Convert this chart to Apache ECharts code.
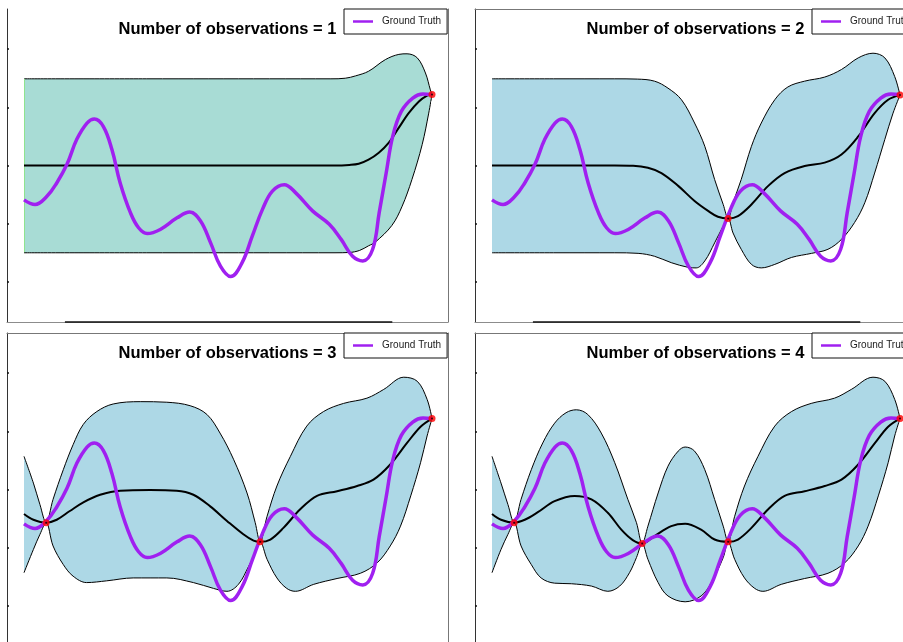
<!DOCTYPE html>
<html>
<head>
<meta charset="utf-8">
<script src="https://cdn.jsdelivr.net/npm/echarts@6/dist/echarts.min.js"></script>
<style>
  html, body { margin: 0; padding: 0; background: #fff; }
  #chart { width: 903px; height: 642px; }
</style>
</head>
<body>
<div id="chart"></div>
<script>
// Ground-truth function, sampled along x
const truthCurve = [[0,-0.59],[0.27,-0.67],[0.56,-0.53],[0.80,-0.30],[1.05,0.02],[1.29,0.45],[1.54,0.73],[1.72,0.80],[1.94,0.67],[2.15,0.27],[2.35,-0.30],[2.60,-0.81],[2.80,-1.07],[3.01,-1.17],[3.33,-1.10],[3.74,-0.90],[4.05,-0.80],[4.31,-0.95],[4.56,-1.33],[4.80,-1.73],[5.05,-1.91],[5.33,-1.67],[5.58,-1.21],[5.83,-0.75],[6.07,-0.44],[6.36,-0.33],[6.64,-0.47],[7.05,-0.78],[7.46,-1.01],[7.75,-1.27],[8.03,-1.56],[8.28,-1.64],[8.52,-1.44],[8.68,-0.81],[8.85,-0.13],[9.01,0.50],[9.22,0.93],[9.50,1.16],[9.75,1.23],[9.97,1.22]];

// Posterior after 1 observation
const observations1 = [[9.97,1.22]];
const mean1  = [[0,0],[3,0],[6,0],[7.6,0],[7.95,0.01],[8.18,0.03],[8.42,0.10],[8.67,0.22],[8.91,0.39],[9.16,0.65],[9.40,0.90],[9.65,1.10],[9.85,1.20],[9.97,1.22]];
const upper1 = [[0,1.49],[3,1.49],[6,1.49],[7.5,1.49],[7.85,1.50],[8.1,1.54],[8.42,1.62],[8.83,1.82],[9.16,1.91],[9.36,1.92],[9.61,1.85],[9.81,1.59],[9.93,1.30],[9.97,1.22]];
const lower1 = [[0,-1.50],[3,-1.50],[6,-1.50],[7.6,-1.50],[7.95,-1.495],[8.2,-1.46],[8.42,-1.38],[8.58,-1.32],[8.99,-1.03],[9.24,-0.70],[9.48,-0.24],[9.73,0.36],[9.89,0.90],[9.97,1.22]];

// Posterior after 2 observations
const observations2 = [[5.77,-0.91],[9.97,1.21]];
const mean2  = [[0,0],[1.5,0],[3,0],[3.45,-0.005],[3.81,-0.04],[4.14,-0.13],[4.55,-0.35],[4.95,-0.61],[5.28,-0.78],[5.52,-0.88],[5.77,-0.91],[6.01,-0.87],[6.34,-0.67],[6.75,-0.35],[7.15,-0.13],[7.64,-0.01],[8.13,0.05],[8.54,0.19],[8.95,0.50],[9.35,0.90],[9.68,1.13],[9.97,1.21]];
const upper2 = [[0,1.49],[1.5,1.49],[3,1.49],[3.55,1.485],[3.97,1.45],[4.30,1.33],[4.63,1.13],[4.95,0.73],[5.20,0.33],[5.44,-0.24],[5.65,-0.67],[5.77,-0.91],[5.89,-0.64],[6.09,-0.24],[6.34,0.33],[6.58,0.73],[6.91,1.13],[7.23,1.35],[7.64,1.45],[8.13,1.52],[8.54,1.65],[8.95,1.85],[9.31,1.93],[9.60,1.85],[9.84,1.53],[9.97,1.21]];
const lower2 = [[0,-1.50],[1.5,-1.50],[3,-1.50],[3.57,-1.51],[3.97,-1.56],[4.38,-1.67],[4.79,-1.75],[4.99,-1.76],[5.20,-1.64],[5.44,-1.33],[5.65,-1.04],[5.77,-0.91],[5.89,-1.16],[6.09,-1.44],[6.34,-1.70],[6.58,-1.76],[6.91,-1.70],[7.32,-1.58],[7.81,-1.51],[8.21,-1.44],[8.54,-1.27],[8.86,-0.98],[9.11,-0.64],[9.35,-0.13],[9.60,0.45],[9.80,0.90],[9.97,1.21]];

// Posterior after 3 observations
const observations3 = [[0.54,-0.57],[5.77,-0.90],[9.97,1.22]];
const mean3  = [[0,-0.42],[0.23,-0.52],[0.54,-0.57],[0.80,-0.52],[1.12,-0.37],[1.45,-0.22],[1.86,-0.09],[2.35,-0.02],[3.08,-0.01],[3.73,-0.02],[4.14,-0.09],[4.55,-0.29],[4.96,-0.54],[5.36,-0.77],[5.61,-0.88],[5.77,-0.90],[6.02,-0.86],[6.34,-0.66],[6.75,-0.34],[7.16,-0.11],[7.65,-0.03],[8.14,0.06],[8.54,0.17],[8.95,0.43],[9.36,0.80],[9.69,1.08],[9.97,1.22]];
const upper3 = [[0,0.57],[0.23,0.11],[0.39,-0.26],[0.54,-0.57],[0.71,-0.17],[0.96,0.34],[1.20,0.77],[1.45,1.12],[1.78,1.34],[2.18,1.47],[2.84,1.51],[3.49,1.50],[4.06,1.44],[4.47,1.29],[4.79,0.97],[5.12,0.52],[5.45,-0.06],[5.65,-0.57],[5.77,-0.90],[5.94,-0.46],[6.18,0.06],[6.51,0.57],[6.91,1.09],[7.32,1.34],[7.81,1.48],[8.38,1.57],[8.79,1.72],[9.28,1.93],[9.61,1.86],[9.85,1.55],[9.97,1.22]];
const lower3 = [[0,-1.43],[0.23,-1.03],[0.39,-0.77],[0.54,-0.57],[0.71,-0.97],[0.96,-1.29],[1.20,-1.49],[1.53,-1.60],[2.02,-1.57],[2.67,-1.52],[3.49,-1.52],[4.14,-1.60],[4.63,-1.70],[4.96,-1.75],[5.24,-1.63],[5.49,-1.32],[5.65,-1.09],[5.77,-0.90],[5.94,-1.20],[6.18,-1.52],[6.42,-1.70],[6.63,-1.75],[7.08,-1.63],[7.65,-1.53],[8.22,-1.44],[8.63,-1.26],[8.95,-0.97],[9.20,-0.63],[9.45,-0.11],[9.69,0.46],[9.85,0.92],[9.97,1.22]];

// Posterior after 4 observations
const observations4 = [[0.54,-0.57],[3.67,-0.93],[5.77,-0.90],[9.97,1.22]];
const mean4  = [[0,-0.42],[0.22,-0.52],[0.54,-0.57],[0.80,-0.52],[1.12,-0.39],[1.53,-0.20],[2.02,-0.11],[2.43,-0.17],[2.83,-0.40],[3.16,-0.69],[3.44,-0.87],[3.67,-0.93],[3.97,-0.80],[4.38,-0.63],[4.72,-0.59],[5.11,-0.69],[5.44,-0.86],[5.77,-0.90],[6.01,-0.86],[6.34,-0.66],[6.75,-0.34],[7.15,-0.11],[7.64,-0.03],[8.13,0.06],[8.54,0.17],[8.95,0.43],[9.36,0.80],[9.68,1.08],[9.97,1.22]];
const upper4 = [[0,0.57],[0.22,0.11],[0.39,-0.26],[0.54,-0.57],[0.71,-0.17],[0.96,0.34],[1.24,0.80],[1.53,1.14],[1.81,1.32],[2.06,1.37],[2.34,1.29],[2.67,0.97],[3.00,0.46],[3.32,-0.17],[3.53,-0.57],[3.67,-0.93],[3.81,-0.63],[4.06,-0.06],[4.30,0.40],[4.55,0.66],[4.72,0.73],[4.95,0.66],[5.20,0.34],[5.44,-0.17],[5.65,-0.63],[5.77,-0.90],[5.93,-0.46],[6.17,0.06],[6.50,0.57],[6.91,1.09],[7.32,1.34],[7.80,1.48],[8.37,1.57],[8.78,1.72],[9.31,1.93],[9.60,1.86],[9.84,1.55],[9.97,1.22]];
const lower4 = [[0,-1.43],[0.22,-1.03],[0.39,-0.77],[0.54,-0.57],[0.71,-0.97],[0.96,-1.29],[1.20,-1.52],[1.53,-1.61],[1.94,-1.62],[2.43,-1.66],[2.83,-1.75],[3.12,-1.66],[3.36,-1.43],[3.53,-1.17],[3.67,-0.93],[3.81,-1.20],[4.06,-1.60],[4.30,-1.83],[4.72,-1.93],[5.11,-1.83],[5.36,-1.60],[5.65,-1.17],[5.77,-0.90],[5.93,-1.20],[6.17,-1.52],[6.42,-1.70],[6.62,-1.75],[7.07,-1.63],[7.64,-1.53],[8.21,-1.44],[8.62,-1.26],[8.95,-0.97],[9.19,-0.63],[9.44,-0.11],[9.68,0.46],[9.84,0.92],[9.97,1.22]];

const panelTitles = ['Number of observations = 1','Number of observations = 2','Number of observations = 3','Number of observations = 4'];
const xTicks = [1, 3, 5, 7, 9];
const yTicks = [-2, -1, 0, 1, 2];

const panels = [
  { obs: observations1, mean: mean1, upper: upper1, lower: lower1 },
  { obs: observations2, mean: mean2, upper: upper2, lower: lower2 },
  { obs: observations3, mean: mean3, upper: upper3, lower: lower3 },
  { obs: observations4, mean: mean4, upper: upper4, lower: lower4 }
];

// Panel frames (pixels) and shared axis extents.
// The right-hand column and the bottom row run past the canvas edge on purpose.
const frames = [
  { left: 7,   top: 9,   topLine: false },
  { left: 475, top: 9,   topLine: true },
  { left: 7,   top: 333, topLine: true },
  { left: 475, top: 333, topLine: true }
];
const W = 441, H = 313;
const PX_PER_X = 408 / 9.97;
const X_MIN = -17 / PX_PER_X, X_MAX = X_MIN + W / PX_PER_X;
const Y_MIN = -2.69, Y_MAX = 2.69;
const FONT = 'Liberation Sans, Arial, Helvetica, sans-serif';

const option = {
  animation: false,
  backgroundColor: '#fff',
  grid: [], xAxis: [], yAxis: [], series: [], title: [], legend: []
};

const hiddenAxisParts = { axisLabel: { show: false }, splitLine: { show: false } };
const plainMarkLine = { silent: true, symbol: 'none', label: { show: false } };

panels.forEach((p, i) => {
  const f = frames[i];
  option.grid.push({
    left: f.left, top: f.top, width: W, height: H, show: false,
    containLabel: false, outerBoundsMode: 'none'
  });

  option.xAxis.push(Object.assign({
    gridIndex: i, type: 'value', min: X_MIN, max: X_MAX, position: 'bottom', z: 10,
    axisLine: { show: true, onZero: false, lineStyle: { color: '#8c8c8c', width: 1 } },
    axisTick: { show: false }
  }, hiddenAxisParts));
  option.xAxis.push(Object.assign({
    gridIndex: i, type: 'value', min: X_MIN, max: X_MAX, position: 'top', z: 10,
    axisLine: { show: f.topLine, onZero: false, lineStyle: { color: '#777', width: 1 } },
    axisTick: { show: false }
  }, hiddenAxisParts));
  option.yAxis.push(Object.assign({
    gridIndex: i, type: 'value', min: Y_MIN, max: Y_MAX, position: 'left', z: 10,
    axisLine: { show: true, onZero: false, lineStyle: { color: '#333', width: 1 } },
    axisTick: { show: true, inside: true, length: 2, customValues: yTicks, lineStyle: { color: '#111', width: 1.5 } }
  }, hiddenAxisParts));
  option.yAxis.push(Object.assign({
    gridIndex: i, type: 'value', min: Y_MIN, max: Y_MAX, position: 'right', z: 10,
    axisLine: { show: true, onZero: false, lineStyle: { color: '#777', width: 1 } },
    axisTick: { show: false }
  }, hiddenAxisParts));

  const ax = { xAxisIndex: 2 * i, yAxisIndex: 2 * i };
  const bandFill = i === 0 ? '#a8dcd5' : '#add8e6';
  const first = p.lower[0], last = p.lower[p.lower.length - 1];

  // Upper edge of the confidence band, filled down to the frame bottom
  option.series.push(Object.assign({
    type: 'line', data: p.upper, smooth: 0.35, symbol: 'none', silent: true, z: 2,
    lineStyle: { color: '#000', width: 1 },
    areaStyle: { color: bandFill, opacity: 1, origin: 'start' },
    markLine: i === 0 ? Object.assign({
      z: 3,
      lineStyle: { color: '#8fe38f', width: 1, type: 'solid' },
      data: [[{ coord: [p.upper[0][0], p.upper[0][1]] }, { coord: [first[0], first[1]] }]]
    }, plainMarkLine) : undefined
  }, ax));
  // Lower edge, masking everything beneath it (white strips seal the two end columns)
  option.series.push(Object.assign({
    type: 'line', data: p.lower, smooth: 0.35, symbol: 'none', silent: true, z: 3,
    lineStyle: { color: '#000', width: 1 },
    areaStyle: { color: '#fff', opacity: 1, origin: 'start' },
    markLine: Object.assign({
      z: 4,
      lineStyle: { color: '#fff', width: 2, type: 'solid' },
      data: [
        [{ coord: [first[0], first[1] - 0.03] }, { coord: [first[0], Y_MIN] }],
        [{ coord: [last[0], last[1] - 0.12] }, { coord: [last[0], Y_MIN] }]
      ]
    }, plainMarkLine)
  }, ax));
  // Posterior mean, plus the dark stretch of the bottom spine between the outer tick positions
  option.series.push(Object.assign({
    type: 'line', data: p.mean, smooth: 0.35, symbol: 'none', silent: true, z: 11, clip: false,
    lineStyle: { color: '#000', width: 2 },
    markLine: Object.assign({
      z: 15,
      lineStyle: { color: '#111', width: 1.5, type: 'solid' },
      data: [[{ coord: [xTicks[0], Y_MIN] }, { coord: [xTicks[xTicks.length - 1], Y_MIN] }]]
    }, plainMarkLine)
  }, ax));
  // Ground truth
  option.series.push(Object.assign({
    name: 'Ground Truth', type: 'line', data: truthCurve, smooth: 0.4, symbol: 'none', silent: true, z: 12,
    lineStyle: { color: '#a020f0', width: 3.5 },
    itemStyle: { color: '#a020f0' }
  }, ax));
  // Observed points
  option.series.push(Object.assign({
    type: 'scatter', data: p.obs, symbol: 'circle', symbolSize: 7, silent: true, z: 13,
    itemStyle: { color: '#ff0000' }
  }, ax));
  option.series.push(Object.assign({
    type: 'scatter', data: p.obs, symbol: 'circle', symbolSize: 2, silent: true, z: 14,
    itemStyle: { color: '#000' }
  }, ax));

  option.title.push({
    text: panelTitles[i], left: f.left + W / 2, top: f.top + 12, textAlign: 'center', padding: 0,
    textStyle: { fontSize: 16.5, fontWeight: 'bold', color: '#000', fontFamily: FONT }
  });

  option.legend.push({
    data: ['Ground Truth'], left: f.left + W - 104, top: f.top, z: 20,
    padding: [7.5, 6, 7.5, 9], icon: 'rect', itemWidth: 20, itemHeight: 2.5,
    backgroundColor: '#fff', borderColor: '#111', borderWidth: 1, borderRadius: 0,
    itemStyle: { borderWidth: 0 },
    textStyle: { fontSize: 10, color: '#222', fontFamily: FONT, padding: [0, 0, 0, 4] },
    selectedMode: false
  });
});

const chart = echarts.init(document.getElementById('chart'), null, { renderer: 'canvas' });
chart.setOption(option);
</script>
</body>
</html>
